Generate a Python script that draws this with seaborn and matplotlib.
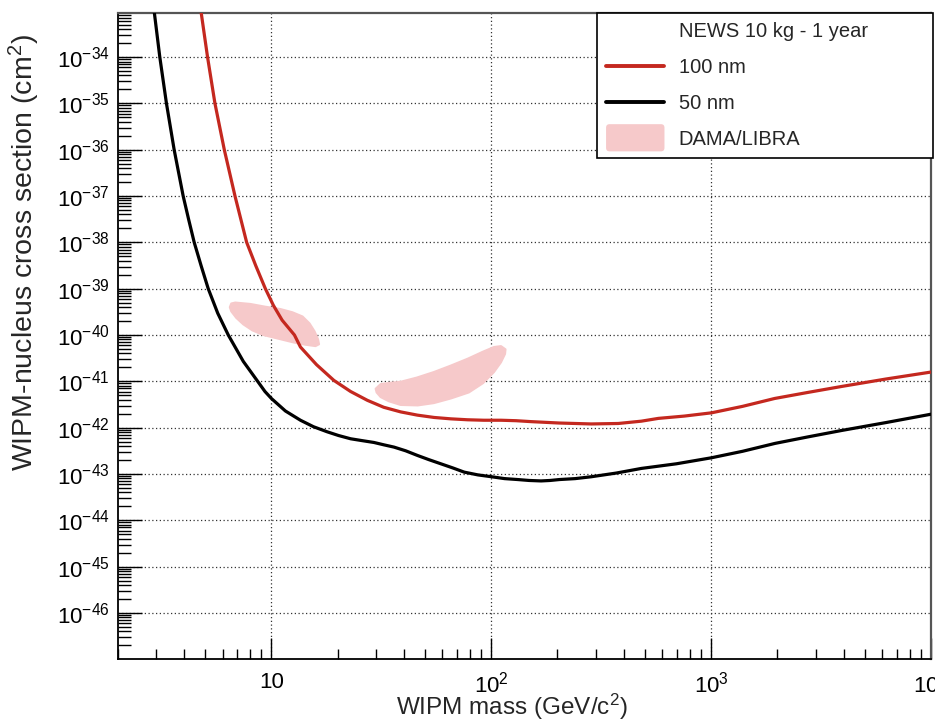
import numpy as np
import pandas as pd
import matplotlib
matplotlib.use("Agg")
import matplotlib.pyplot as plt
import matplotlib.ticker as mticker
from matplotlib.lines import Line2D
from matplotlib.patches import Patch, FancyBboxPatch
from matplotlib.legend_handler import HandlerPatch
import seaborn as sns

# ---- data ----
mass_50nm = [2.928, 3.108, 3.332, 3.612, 3.970, 4.206, 4.456, 4.795, 5.161, 5.702, 6.366, 7.452,
             8.752, 9.350, 10.0, 11.58, 13.56, 15.54, 17.95, 20.21, 22.93, 25.86, 29.28, 32.42,
             36.12, 40.83, 46.17, 51.98, 58.97, 66.91, 75.33, 87.00, 100.4, 114.9, 131.9, 148.6,
             168.5, 185.2, 204.2, 240.8, 284.9, 370.4, 481.7, 695.3, 1004, 1391, 1952, 2752,
             3932, 6243, 10000]
logsig_50nm = [-33.0, -34.0, -35.0, -36.0, -37.0, -37.51, -38.0, -38.51, -39.0, -39.53, -40.0,
               -40.57, -41.03, -41.22, -41.37, -41.64, -41.84, -41.98, -42.09, -42.17, -42.24,
               -42.28, -42.32, -42.37, -42.42, -42.50, -42.60, -42.69, -42.78, -42.87, -42.96,
               -43.02, -43.06, -43.10, -43.12, -43.14, -43.15, -43.14, -43.12, -43.10, -43.06,
               -42.98, -42.88, -42.78, -42.65, -42.51, -42.34, -42.20, -42.06, -41.89, -41.71]

mass_100nm = [4.78, 5.124, 5.537, 6.107, 6.831, 7.718, 8.501, 9.389, 10.21, 11.19, 12.73, 13.56,
              16.04, 19.24, 22.93, 27.32, 32.42, 38.74, 46.17, 54.98, 65.52, 78.06, 92.62, 110.7,
              129.6, 151.7, 203.5, 284.9, 378.3, 481.7, 575.6, 756.2, 1004, 1391, 1946, 2752,
              3932, 6243, 10000]
logsig_100nm = [-33.0, -34.0, -35.0, -36.0, -37.0, -38.0, -38.51, -39.0, -39.36, -39.68, -40.0,
                -40.26, -40.64, -40.98, -41.22, -41.41, -41.56, -41.66, -41.73, -41.78, -41.81,
                -41.83, -41.84, -41.84, -41.85, -41.87, -41.90, -41.92, -41.91, -41.86, -41.80,
                -41.75, -41.68, -41.54, -41.37, -41.24, -41.11, -40.95, -40.80]

dama1_mass = [6.47, 6.57, 6.85, 8.02, 9.39, 10.99, 12.47, 13.85, 14.91, 15.71, 16.29, 16.47,
              15.87, 14.29, 12.60, 10.76, 9.19, 8.19, 7.45, 6.92, 6.57]
dama1_logsig = [-39.40, -39.32, -39.30, -39.33, -39.39, -39.44, -39.51, -39.60, -39.75, -39.92,
                -40.09, -40.20, -40.24, -40.21, -40.16, -40.08, -40.00, -39.90, -39.77, -39.63,
                -39.49]
dama2_mass = [29.8, 31.4, 34.9, 38.7, 45.8, 54.8, 65.5, 78.3, 91.7, 102.9, 110.7, 116.1, 115.5,
              110.7, 102.9, 91.7, 79.1, 65.5, 54.8, 46.3, 38.7, 34.2, 31.4, 30.1]
dama2_logsig = [-41.16, -41.06, -41.03, -41.01, -40.92, -40.80, -40.66, -40.51, -40.36, -40.26,
                -40.24, -40.31, -40.41, -40.59, -40.80, -41.04, -41.24, -41.37, -41.47, -41.52,
                -41.51, -41.43, -41.34, -41.24]

legend_header = "NEWS 10 kg - 1 year"
series_labels = ["100 nm", "50 nm", "DAMA/LIBRA"]
x_ticks = [10, 100, 1000, 10000]
x_ticklabels = ["10", "$10^{2}$", "$10^{3}$", "$10^{4}$"]
y_exponents = list(range(-46, -33))

# ---- style ----
sns.set_theme(style="ticks")
plt.rcParams["font.family"] = ["Liberation Sans", "DejaVu Sans"]
plt.rcParams["mathtext.fontset"] = "custom"
plt.rcParams["mathtext.rm"] = "Liberation Sans"
plt.rcParams["mathtext.it"] = "Liberation Sans:italic"
plt.rcParams["mathtext.bf"] = "Liberation Sans:bold"
plt.rcParams["mathtext.default"] = "regular"

RED = "#c4281f"
PINK = "#f6c9ca"

fig = plt.figure(figsize=(9.35, 7.21), dpi=100)
ax = fig.add_axes([117.7 / 935, 1 - 659.3 / 721, (931 - 117.7) / 935, (659.3 - 13) / 721])
ax.set_xscale("log")
ax.set_yscale("log")

df50 = pd.DataFrame({"mass": mass_50nm, "sigma": 10.0 ** np.array(logsig_50nm)})
df100 = pd.DataFrame({"mass": mass_100nm, "sigma": 10.0 ** np.array(logsig_100nm)})

for mm, ls in [(dama1_mass, dama1_logsig), (dama2_mass, dama2_logsig)]:
    ax.fill(mm, 10.0 ** np.array(ls), facecolor=PINK, edgecolor=PINK, lw=1.5,
            joinstyle="round", zorder=1.5)

sns.lineplot(data=df100, x="mass", y="sigma", ax=ax, color=RED, lw=2.3, estimator=None,
             sort=False, zorder=3)
sns.lineplot(data=df50, x="mass", y="sigma", ax=ax, color="black", lw=2.3, estimator=None,
             sort=False, zorder=3)
for ln in ax.get_lines():
    ln.set_solid_joinstyle("round")

ax.set_xlim(2.0, 10000)
ax.set_ylim(1e-47, 10 ** -33.05)

ax.xaxis.set_major_locator(mticker.FixedLocator(x_ticks))
ax.xaxis.set_major_formatter(mticker.FixedFormatter(x_ticklabels))
ax.xaxis.set_minor_locator(mticker.LogLocator(base=10, subs=np.arange(2, 10), numticks=100))
ax.xaxis.set_minor_formatter(mticker.NullFormatter())

ax.yaxis.set_major_locator(mticker.FixedLocator([10.0 ** e for e in y_exponents]))
ax.yaxis.set_major_formatter(mticker.FixedFormatter(["$10^{%d}$" % e for e in y_exponents]))
ax.yaxis.set_minor_locator(mticker.LogLocator(base=10, subs=np.arange(2, 10), numticks=100))
ax.yaxis.set_minor_formatter(mticker.NullFormatter())

ax.tick_params(axis="both", which="both", direction="in", top=False, right=False,
               labelsize=16, colors="black", width=1.0)
ax.tick_params(axis="x", which="major", length=15, pad=9)
ax.tick_params(axis="x", which="minor", length=7.5)
ax.tick_params(axis="y", which="major", length=17, pad=6)
ax.tick_params(axis="y", which="minor", length=9)

ax.grid(True, which="major", linestyle=(0, (1, 2)), color="#333333", lw=0.9)
ax.grid(False, which="minor")
ax.set_axisbelow(True)

for side in ["left", "bottom"]:
    ax.spines[side].set_color("black")
    ax.spines[side].set_linewidth(1.3)
for side in ["top", "right"]:
    ax.spines[side].set_color("#555555")
    ax.spines[side].set_linewidth(1.6)

ax.set_xlabel("WIPM mass (GeV/c$^{2}$)", fontsize=17.5)
ax.xaxis.label.set_va("center")
ax.xaxis.set_label_coords((512 - 117.7) / 813.3, (659.3 - 707) / 646.3)
ax.set_ylabel("WIPM-nucleus cross section (cm$^{2}$)", fontsize=20.5)
ax.yaxis.label.set_va("center")
ax.yaxis.set_label_coords((24 - 117.7) / 813.3, (659.3 - 253) / 646.3)


def rounded_patch(legend, orig_handle, xdescent, ydescent, width, height, fontsize):
    h = fontsize * 1.35
    yc = -ydescent + height / 2.0
    return FancyBboxPatch((-xdescent, yc - h / 2.0), width, h,
                          boxstyle="round,pad=0,rounding_size=2.5")


handles = [Line2D([], [], color="none"),
           Line2D([], [], color=RED, lw=2.8),
           Line2D([], [], color="black", lw=2.8),
           Patch(facecolor=PINK, edgecolor="none")]
labels = [legend_header] + series_labels
leg = fig.legend(handles, labels, loc="upper left",
                 bbox_to_anchor=(597 / 935, 1 - 156 / 721, 336 / 935, 143 / 721),
                 mode="expand", borderaxespad=0, fontsize=14.5, frameon=True,
                 fancybox=False, edgecolor="black", framealpha=1,
                 handlelength=2.9, handleheight=0.7, handletextpad=0.7,
                 borderpad=0.45, labelspacing=0.84,
                 handler_map={Patch: HandlerPatch(patch_func=rounded_patch)})
leg.get_frame().set_linewidth(1.2)

fig.savefig("out.png", dpi=100)
